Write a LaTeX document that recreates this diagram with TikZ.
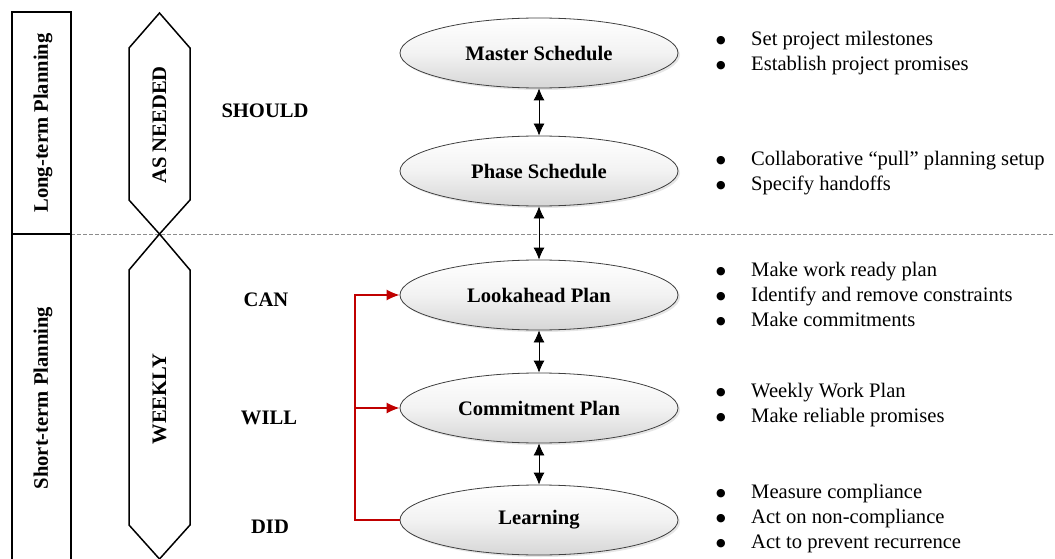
\documentclass[tikz,border=0pt]{standalone}
\usepackage{fontspec}
\setmainfont{Liberation Serif}
\newfontfamily\bulfont{DejaVu Sans}
\usetikzlibrary{arrows.meta,shadows,calc,shapes.geometric}
\begin{document}
\begin{tikzpicture}[x=1pt,y=-1pt,
  every node/.style={font=\fontsize{20.6}{25}\selectfont},
  plan/.style={ellipse,draw=black!75,line width=0.8pt,minimum width=278pt,minimum height=70pt,inner sep=0pt,
     top color=white,bottom color=black!16,middle color=black!5,font=\fontsize{20.6}{25}\selectfont\bfseries,
     drop shadow={opacity=0.2,shadow xshift=2pt,shadow yshift=-2pt}},
  biarrow/.style={{Latex[length=12pt,width=11pt]}-{Latex[length=12pt,width=11pt]},line width=0.8pt},
  redline/.style={draw={rgb,255:red,192;green,0;blue,0},line width=1.5pt},
  redtip/.style={-{Latex[length=13pt,width=11pt]}},
  lbl/.style={font=\fontsize{20.6}{25}\selectfont\bfseries},
  vlbl/.style={font=\fontsize{20.6}{25}\selectfont\bfseries,rotate=90},
  blist/.style={anchor=north west,align=left,inner sep=0pt,font=\fontsize{20.6}{25}\selectfont},
  hexa/.style={line width=1.5pt,line join=miter},
  frame/.style={line width=2pt}
]
\useasboundingbox (0,0) rectangle (1055,559);
\clip (0,0) rectangle (1055,559);
% dashed divider
\draw[black!45,line width=0.8pt,dash pattern=on 4pt off 2pt] (71,234) -- (1055,234);
% left frames
\draw[frame] (12,12) rectangle (71,234);
\draw[frame] (12,234) rectangle (71,600);
\node[vlbl] (lt) at (43,123) {Long-term Planning};
\node[vlbl] (st) at (43,398) {Short-term Planning};
% hexagons
\draw[hexa] (159.5,13) -- (190,48) -- (190,200) -- (159.5,234) -- (129,200) -- (129,48) -- cycle;
\draw[hexa] (159.5,234) -- (190,270) -- (190,525) -- (159.5,559) -- (129,525) -- (129,270) -- cycle;
\node[vlbl] (an) at (159.5,125) {AS NEEDED};
\node[vlbl] (wk) at (159.5,399) {WEEKLY};
% labels
\node[lbl] (should) at (265,111) {SHOULD};
\node[lbl] (can) at (266,300) {CAN};
\node[lbl] (will) at (269,418) {WILL};
\node[lbl] (did) at (270,527) {DID};
% ellipses
\node[plan] (ms) at (539,53) {Master Schedule};
\node[plan] (ps) at (539,171) {Phase Schedule};
\node[plan] (lp) at (539,295) {Lookahead Plan};
\node[plan] (cp) at (539,408) {Commitment Plan};
\node[plan] (le) at (539,520) {Learning};
% arrows
\draw[biarrow] (ms) -- (ps);
\draw[biarrow] (ps) -- (lp);
\draw[biarrow] (lp) -- (cp);
\draw[biarrow] (cp) -- (le);
% red feedback
\coordinate (r) at (355,520);
\draw[redline,redtip] (le.west) -- (r) |- (lp.west);
\draw[redline,redtip] (r |- cp.west) -- (cp.west);
% bullet lists
\def\bl#1{\makebox[35pt][l]{\raisebox{1.5pt}{\bulfont\fontsize{11}{11}\selectfont ●}}#1}
\node[blist] (b1) at (716,31) {\bl{Set project milestones}\\\bl{Establish project promises}};
\node[blist] (b2) at (716,151) {\bl{Collaborative “pull” planning setup}\\\bl{Specify handoffs}};
\node[blist] (b3) at (716,262) {\bl{Make work ready plan}\\\bl{Identify and remove constraints}\\\bl{Make commitments}};
\node[blist] (b4) at (716,383) {\bl{Weekly Work Plan}\\\bl{Make reliable promises}};
\node[blist] (b5) at (716,484) {\bl{Measure compliance}\\\bl{Act on non-compliance}\\\bl{Act to prevent recurrence}};
\end{tikzpicture}
\end{document}
